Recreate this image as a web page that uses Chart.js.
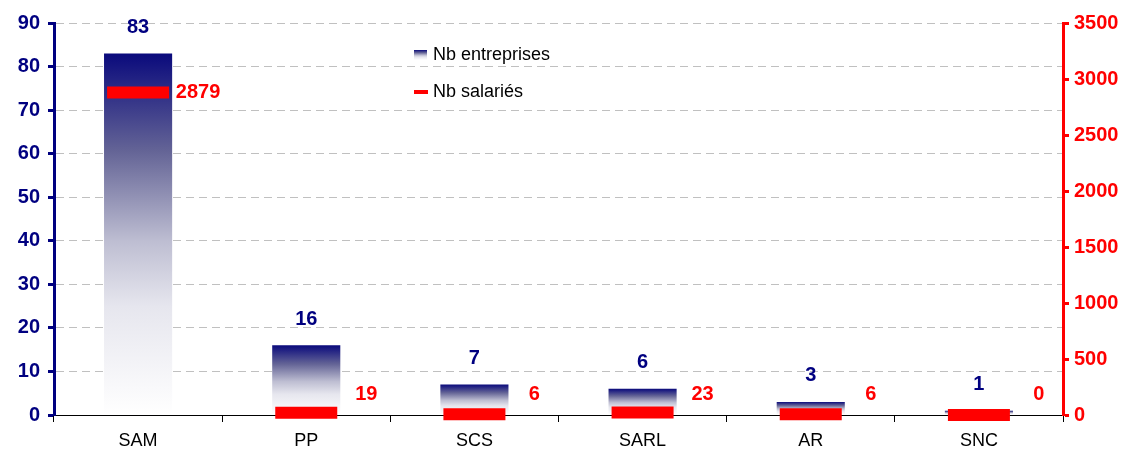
<!DOCTYPE html>
<html>
<head>
<meta charset="utf-8">
<script src="https://cdn.jsdelivr.net/npm/chart.js@4.4.0/dist/chart.umd.min.js"></script>
<style>
  html, body { margin: 0; padding: 0; background: #fff; }
  #wrap { width: 1132px; height: 457px; }
</style>
</head>
<body>
<div id="wrap"><canvas id="formesChart" width="1132" height="457"></canvas></div>
<script>
// data
var categories = ["SAM", "PP", "SCS", "SARL", "AR", "SNC"];
var nbEntreprises = [83, 16, 7, 6, 3, 1];
var nbSalaries = [2879, 19, 6, 23, 6, 0];
var leftTicks = [0, 10, 20, 30, 40, 50, 60, 70, 80, 90];
var rightTicks = [0, 500, 1000, 1500, 2000, 2500, 3000, 3500];

var NAVY = '#000080';
var RED = '#ff0000';
var FONT = '"Liberation Sans", Arial, sans-serif';

function fillStops(g) {
    g.addColorStop(0, '#0a0a7c');
    g.addColorStop(0.27, '#646496');
    g.addColorStop(0.52, '#bebed2');
    g.addColorStop(0.7, '#e6e6ee');
    g.addColorStop(1, '#ffffff');
    return g;
}

function barGradient(context) {
    var chart = context.chart;
    var y = chart.scales && chart.scales.y;
    if (!chart.chartArea || !y || context.raw === undefined) return NAVY;
    var top = y.getPixelForValue(context.raw);
    var base = y.getPixelForValue(0);
    if (base - top < 1) return NAVY;
    return fillStops(chart.ctx.createLinearGradient(0, top, 0, base));
}

var labelsPlugin = {
    id: 'valueLabels',
    afterDatasetsDraw: function (chart) {
        var ctx = chart.ctx;
        var y = chart.scales.y, y2 = chart.scales.y2, x = chart.scales.x;
        var base = y.getPixelForValue(0);
        ctx.save();
        ctx.font = 'bold 20px ' + FONT;
        ctx.textAlign = 'center';
        ctx.textBaseline = 'middle';
        categories.forEach(function (c, i) {
            var cx = x.getPixelForValue(i);
            ctx.fillStyle = NAVY;
            ctx.fillText(String(nbEntreprises[i]), cx, y.getPixelForValue(nbEntreprises[i]) - 26);
            var my = y2.getPixelForValue(nbSalaries[i]);
            ctx.fillStyle = RED;
            ctx.fillText(String(nbSalaries[i]), cx + 60, Math.min(my, base - 21));
        });

        // legend
        var lx = 414, ly1 = 55, ly2 = 92;
        ctx.fillStyle = fillStops(ctx.createLinearGradient(0, ly1 - 5, 0, ly1 + 5));
        ctx.fillRect(lx, ly1 - 5, 13, 10);
        ctx.fillStyle = RED;
        ctx.fillRect(lx, ly2 - 2, 14, 4);
        ctx.font = '18px ' + FONT;
        ctx.textAlign = 'left';
        ctx.fillStyle = '#000';
        ctx.fillText('Nb entreprises', 433, ly1);
        ctx.fillText('Nb salariés', 433, ly2);
        ctx.restore();
    }
};

var ctx = document.getElementById('formesChart').getContext('2d');
var formesChart = new Chart(ctx, {
    data: {
        labels: categories,
        datasets: [{
            type: 'bar',
            label: 'Nb entreprises',
            data: nbEntreprises,
            yAxisID: 'y',
            backgroundColor: barGradient,
            categoryPercentage: 1,
            barPercentage: 0.405,
            order: 2
        },
        {
            type: 'line',
            label: 'Nb salariés',
            data: nbSalaries,
            yAxisID: 'y2',
            showLine: false,
            pointStyle: 'line',
            pointRadius: 31,
            pointHoverRadius: 31,
            pointBorderWidth: 12,
            pointBorderColor: RED,
            pointBackgroundColor: RED,
            clip: false,
            order: 1
        }]
    },
    options: {
        responsive: false,
        animation: false,
        layout: { autoPadding: false, padding: { top: 23, left: 0, right: 0, bottom: 0 } },
        scales: {
            x: {
                offset: true,
                border: { display: true, color: '#000', width: 1 },
                grid: {
                    offset: true,
                    drawOnChartArea: false,
                    drawTicks: true,
                    tickLength: 7,
                    tickColor: '#000',
                    tickWidth: 1
                },
                ticks: {
                    color: '#000',
                    font: { family: FONT, size: 18 },
                    padding: 8
                },
                afterFit: function (s) { s.height = 42; }
            },
            y: {
                position: 'left',
                min: 0,
                max: 90,
                afterBuildTicks: function (s) { s.ticks = leftTicks.map(function (v) { return { value: v }; }); },
                border: { display: true, color: NAVY, width: 3, dash: [8, 5] },
                grid: {
                    color: '#c0c0c0',
                    lineWidth: 1,
                    tickLength: 6,
                    tickColor: NAVY,
                    tickWidth: 3,
                    tickBorderDash: []
                },
                ticks: {
                    color: NAVY,
                    font: { family: FONT, size: 20, weight: 'bold' },
                    padding: 8
                },
                afterFit: function (s) { s.width = 54; }
            },
            y2: {
                position: 'right',
                min: 0,
                max: 3500,
                afterBuildTicks: function (s) { s.ticks = rightTicks.map(function (v) { return { value: v }; }); },
                border: { display: true, color: RED, width: 3 },
                grid: {
                    drawOnChartArea: false,
                    tickLength: 6,
                    tickColor: RED,
                    tickWidth: 3
                },
                ticks: {
                    color: RED,
                    font: { family: FONT, size: 20, weight: 'bold' },
                    padding: 5,
                    callback: function (v) { return String(v); }
                },
                afterFit: function (s) { s.width = 69; }
            }
        },
        plugins: {
            legend: { display: false },
            tooltip: { enabled: false }
        }
    },
    plugins: [labelsPlugin]
});
</script>
</body>
</html>
